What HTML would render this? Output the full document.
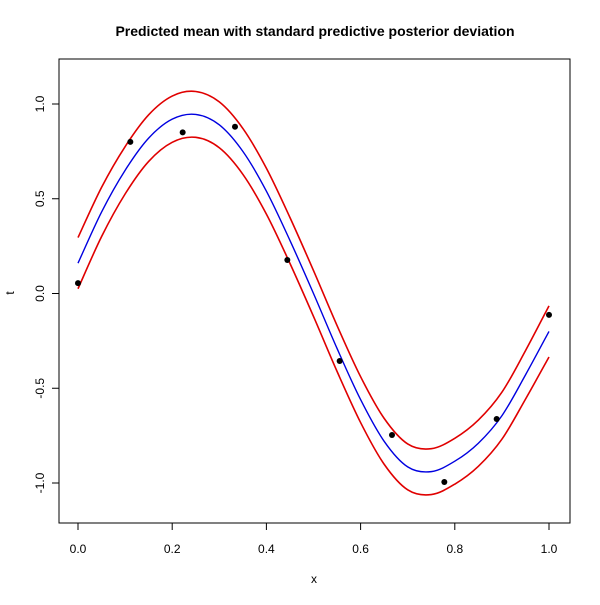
<!DOCTYPE html>
<html><head><meta charset="utf-8"><style>
body{margin:0;background:#fff}
svg{font-family:"Liberation Sans",Arial,sans-serif}
</style></head><body>
<svg id="c" width="600" height="600">
<text x="315" y="36" text-anchor="middle" font-size="14" font-weight="bold">Predicted mean with standard predictive posterior deviation</text>
<rect x="59" y="59" width="511" height="464" fill="none" stroke="#000"/>
<text x="314" y="583" text-anchor="middle" font-size="12">x</text>
<text transform="translate(14,293) rotate(-90)" text-anchor="middle" font-size="12">t</text>
<g id="ax"></g><g id="marks"></g>
</svg>
<script>
const pointX=[0,1/9,2/9,3/9,4/9,5/9,6/9,7/9,8/9,1];
const pointT=[0.055,0.80,0.85,0.88,0.177,-0.356,-0.747,-0.995,-0.662,-0.113];
const curveX=[0,0.05,0.1,0.15,0.2,0.25,0.3,0.35,0.4,0.45,0.5,0.55,0.6,0.65,0.7,0.75,0.8,0.85,0.9,0.95,1];
const meanT=[0.16,0.43,0.65,0.82,0.92,0.945,0.89,0.75,0.54,0.28,0.0,-0.29,-0.56,-0.78,-0.915,-0.94,-0.885,-0.79,-0.645,-0.43,-0.20];
const sdT=[0.135,0.13,0.125,0.123,0.122,0.121,0.121,0.121,0.121,0.121,0.121,0.121,0.121,0.121,0.121,0.121,0.121,0.122,0.124,0.128,0.135];
const xTicks=[0,0.2,0.4,0.6,0.8,1];
const xTickLabels=["0.0","0.2","0.4","0.6","0.8","1.0"];
const yTicks=[-1,-0.5,0,0.5,1];
const yTickLabels=["-1.0","-0.5","0.0","0.5","1.0"];
const sx=v=>78+v*471, sy=v=>293.5-v*189.5;
const NS="http://www.w3.org/2000/svg";
const ax=document.getElementById('ax'), mk=document.getElementById('marks');
function el(t,a,p){const e=document.createElementNS(NS,t);for(const k in a)e.setAttribute(k,a[k]);p.appendChild(e);return e;}
el('line',{x1:sx(0),x2:sx(1),y1:523,y2:523,stroke:'#000'},ax);
xTicks.forEach((v,i)=>{
 const l=el('line',{x1:sx(v),x2:sx(v),y1:523,y2:530,stroke:'#000'},ax);
 
 const t=el('text',{x:sx(v),y:553,'text-anchor':'middle','font-size':12},ax);t.textContent=xTickLabels[i];
 
});
yTicks.forEach((v,i)=>{
 const l=el('line',{x1:52,x2:59,y1:sy(v),y2:sy(v),stroke:'#000'},ax);
 
 const t=el('text',{transform:`translate(44,${sy(v)}) rotate(-90)`,'text-anchor':'middle','font-size':12},ax);t.textContent=yTickLabels[i];
 
});
function pathOf(ys){
 const p=curveX.map((x,i)=>[sx(x),sy(ys[i])]);
 let d=`M${p[0][0]},${p[0][1]}`;
 for(let i=0;i<p.length-1;i++){
  const p0=p[Math.max(0,i-1)],p1=p[i],p2=p[i+1],p3=p[Math.min(p.length-1,i+2)];
  d+=` C${p1[0]+(p2[0]-p0[0])/6},${p1[1]+(p2[1]-p0[1])/6} ${p2[0]-(p3[0]-p1[0])/6},${p2[1]-(p3[1]-p1[1])/6} ${p2[0]},${p2[1]}`;
 }
 return d;
}
const up=el('path',{d:pathOf(meanT.map((m,i)=>m+sdT[i])),fill:'none',stroke:'#e00000','stroke-width':1.6},mk);

const lo=el('path',{d:pathOf(meanT.map((m,i)=>m-sdT[i])),fill:'none',stroke:'#e00000','stroke-width':1.6},mk);

const mn=el('path',{d:pathOf(meanT),fill:'none',stroke:'#0000e0','stroke-width':1.4},mk);

pointX.forEach((x,i)=>{
 const c=el('circle',{cx:sx(x),cy:sy(pointT[i]),r:3,fill:'#000'},mk);
 
});
</script>
</body></html>
